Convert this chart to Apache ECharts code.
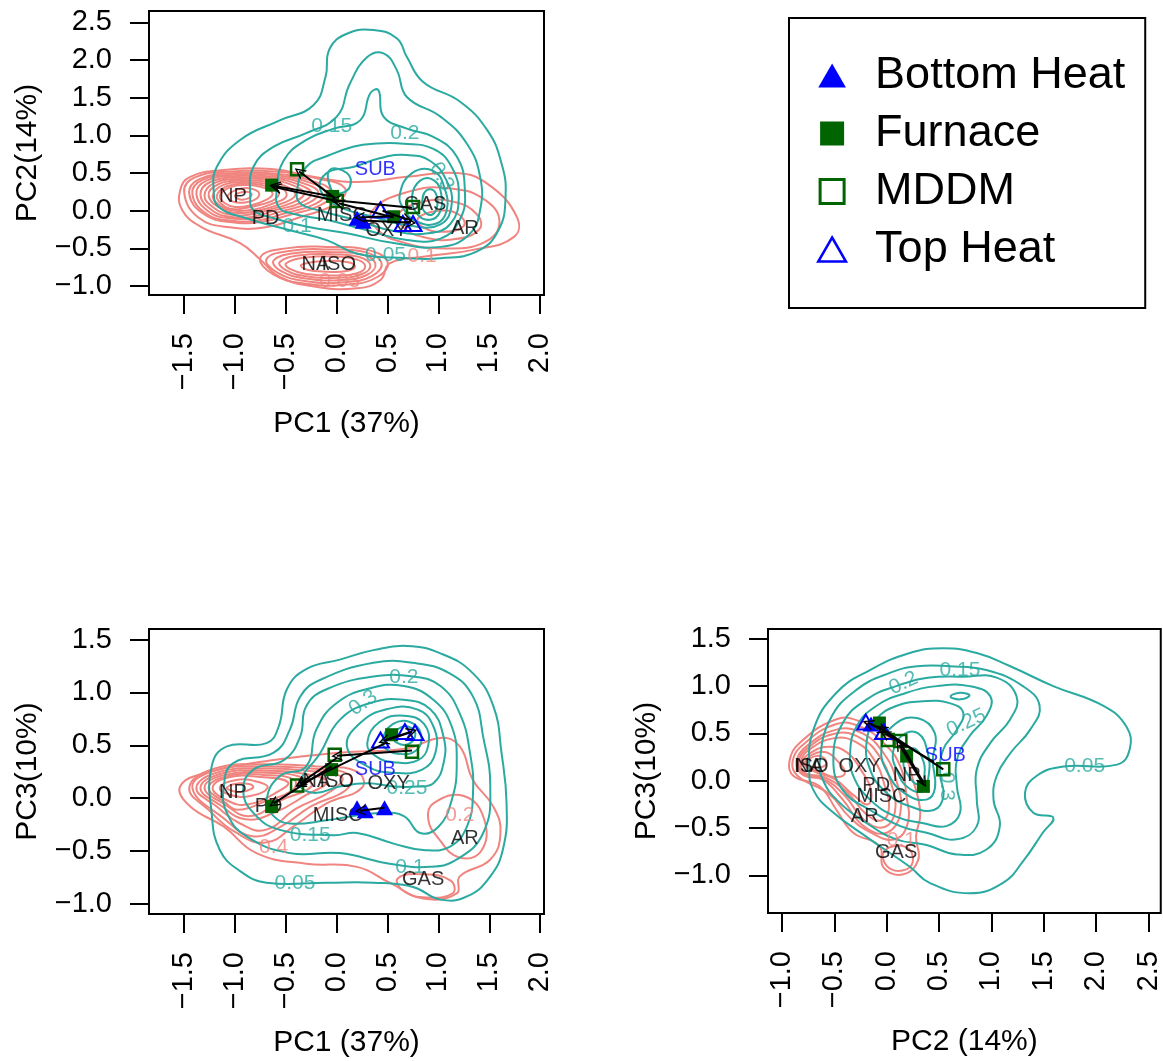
<!DOCTYPE html>
<html><head><meta charset="utf-8">
<script src="https://cdn.jsdelivr.net/npm/echarts@6/dist/echarts.min.js"></script>
<style>html,body{margin:0;padding:0;background:#fff}#c{width:1163px;height:1061px}</style>
</head><body><div id="c"></div>
<script>
// ---------- tick labels ----------
const p1XTicks = [-1.5,-1,-0.5,0,0.5,1,1.5,2];
const p1YTicks = [-1,-0.5,0,0.5,1,1.5,2,2.5];
const p2XTicks = [-1.5,-1,-0.5,0,0.5,1,1.5,2];
const p2YTicks = [-1,-0.5,0,0.5,1,1.5];
const p3XTicks = [-1,-0.5,0,0.5,1,1.5,2,2.5];
const p3YTicks = [-1,-0.5,0,0.5,1,1.5];
const axisNames = ['PC1 (37%)','PC2(14%)','PC1 (37%)','PC3(10%)','PC2 (14%)','PC3(10%)'];
const groups = ['Bottom Heat','Furnace','MDDM','Top Heat'];

// ---------- points (per panel) ----------
const p1BottomHeat = [[0.20,-0.10],[0.26,-0.14]];
const p1Furnace    = [[-0.64,0.34],[-0.04,0.19],[0.56,-0.08]];
const p1MDDM       = [[-0.39,0.55],[0.00,0.13],[0.75,0.05]];
const p1TopHeat    = [[0.43,0.01],[0.65,-0.17],[0.75,-0.17]];

const p2BottomHeat = [[0.20,-0.09],[0.28,-0.12],[0.47,-0.09]];
const p2Furnace    = [[-0.64,-0.08],[-0.05,0.27],[0.54,0.60]];
const p2MDDM       = [[-0.39,0.12],[-0.02,0.41],[0.74,0.44]];
const p2TopHeat    = [[0.43,0.55],[0.67,0.63],[0.77,0.62]];

const p3BottomHeat = [[-0.15,0.60]];
const p3Furnace    = [[-0.07,0.61],[0.19,0.26],[0.35,-0.06]];
const p3MDDM       = [[0.01,0.43],[0.13,0.42],[0.54,0.12]];
const p3TopHeat    = [[-0.20,0.62],[-0.03,0.52]];

// ---------- arrows [x1,y1,x2,y2] (head at second point) ----------
const p1Arrows = [[-0.04,0.19,-0.61,0.33],[0.00,0.13,-0.60,0.31],[0.74,0.04,-0.02,0.14],[-0.02,0.17,-0.37,0.52],[0.56,-0.07,0.22,-0.09],[0.26,-0.13,0.73,-0.16],[0.45,0.00,0.70,-0.12],[0.56,-0.09,0.02,0.10]];
const p2Arrows = [[0.74,0.45,0.00,0.40],[0.50,0.53,-0.36,0.13],[0.00,0.38,-0.36,0.14],[-0.05,0.30,-0.62,-0.05],[0.48,0.55,0.74,0.63],[0.72,0.62,0.46,0.54],[0.47,-0.09,0.23,-0.12]];
const p3Arrows = [[0.54,0.12,-0.05,0.55],[0.45,0.20,-0.02,0.50],[0.13,0.40,0.35,-0.02],[0.35,-0.04,0.12,0.38],[-0.05,0.55,-0.18,0.61],[-0.16,0.60,-0.03,0.53]];

// ---------- variable labels [text, x, y] ----------
const p1Vars = [['NP',-1.02,0.19],['PD',-0.70,-0.10],['MISC',0.05,-0.06],['OXY',0.49,-0.26],['GAS',0.87,0.08],['AR',1.26,-0.23],['NA',-0.21,-0.71],['ISO',0.02,-0.71]];
const p1Sub  = [['SUB',0.38,0.55]];
const p2Vars = [['NP',-1.02,0.05],['PD',-0.67,-0.08],['NA',-0.20,0.16],['ISO',0.00,0.16],['OXY',0.51,0.14],['MISC',0.01,-0.16],['AR',1.26,-0.38],['GAS',0.85,-0.77]];
const p2Sub  = [['SUB',0.38,0.27]];
const p3Vars = [['ISO',-0.72,0.15],['NA',-0.74,0.15],['OXY',-0.26,0.15],['NP',0.19,0.05],['PD',-0.10,-0.05],['MISC',-0.05,-0.17],['AR',-0.21,-0.38],['GAS',0.09,-0.76]];
const p3Sub  = [['SUB',0.56,0.27]];

// ---------- contour level labels [text, x, y, angle] ----------
const p1TealLabels = [['0.15',-0.05,1.12,0],['0.2',0.67,1.03,0],['0.3',1.03,0.45,-60],['0.1',-0.39,-0.21,0],['0.05',0.48,-0.59,0]];
const p1SalmonLabels = [['0.1',0.84,-0.61,0],['0.03',0.03,-0.94,0]];
const p2TealLabels = [['0.2',0.66,1.14,0],['0.3',0.26,0.90,35],['0.25',0.69,0.09,0],['0.15',-0.26,-0.35,0],['0.1',0.72,-0.65,0],['0.05',-0.41,-0.80,0]];
const p2SalmonLabels = [['0.2',1.21,-0.16,0],['0.4',-0.62,-0.46,0]];
const p3TealLabels = [['0.15',0.70,1.17,0],['0.2',0.16,1.03,25],['0.25',0.76,0.61,25],['0.05',1.89,0.15,0],['0.3',0.57,-0.06,-90]];
const p3SalmonLabels = [['0.1',0.14,-0.63,0]];

// ---------- contour lines (closed loops, data coordinates) ----------
const p1Teal = [
 [[-1.21,0.27],[-1.18,0.58],[-0.95,0.94],[-0.56,1.20],[-0.23,1.40],[-0.11,1.78],[-0.07,2.15],[0.10,2.35],[0.36,2.40],[0.59,2.29],[0.69,2.04],[0.85,1.71],[1.21,1.45],[1.48,1.07],[1.62,0.63],[1.66,0.19],[1.59,-0.26],[1.38,-0.54],[1.02,-0.63],[0.69,-0.63],[0.20,-0.57],[-0.10,-0.39],[-0.46,-0.26],[-0.89,-0.10],[-1.16,0.05]],
 [[-0.85,0.19],[-0.82,0.58],[-0.62,0.85],[-0.30,1.03],[0.00,1.25],[0.13,1.69],[0.30,2.04],[0.46,2.09],[0.59,1.87],[0.69,1.51],[1.02,1.25],[1.28,0.89],[1.41,0.45],[1.41,0.01],[1.30,-0.32],[1.02,-0.48],[0.56,-0.43],[0.10,-0.30],[-0.30,-0.21],[-0.62,-0.10],[-0.82,0.01]],
 [[-0.59,0.27],[-0.52,0.67],[-0.30,0.94],[-0.03,1.09],[0.23,1.20],[0.33,1.56],[0.41,1.60],[0.46,1.25],[0.69,1.09],[0.95,0.98],[1.18,0.72],[1.26,0.27],[1.21,-0.12],[1.02,-0.37],[0.69,-0.39],[0.30,-0.26],[-0.10,-0.12],[-0.43,-0.04],[-0.57,0.05]],
 [[-0.39,0.27],[-0.30,0.58],[-0.07,0.74],[0.16,0.85],[0.36,0.89],[0.66,0.89],[0.95,0.82],[1.13,0.58],[1.20,0.19],[1.12,-0.17],[0.90,-0.30],[0.56,-0.27],[0.20,-0.13],[-0.16,0.00],[-0.36,0.10]],
 [[-0.16,0.27],[-0.10,0.50],[0.16,0.58],[0.43,0.70],[0.69,0.74],[0.92,0.66],[1.08,0.40],[1.13,0.08],[1.02,-0.18],[0.72,-0.20],[0.36,-0.08],[0.03,0.05]],
 [[0.62,0.22],[0.74,0.50],[0.95,0.53],[1.06,0.30],[1.08,0.00],[0.98,-0.17],[0.78,-0.14],[0.66,0.02]],
 [[0.74,0.18],[0.82,0.40],[0.96,0.40],[1.03,0.20],[1.01,-0.03],[0.92,-0.12],[0.80,-0.06]],
 [[0.84,0.12],[0.88,0.27],[0.96,0.26],[0.99,0.08],[0.94,-0.05],[0.86,-0.01]],
 [[-0.07,0.54],[0.10,0.50],[0.13,0.32],[0.03,0.23],[-0.05,0.27]]
];
const p1Salmon = [
 [[-1.54,0.27],[-1.44,0.45],[-1.11,0.54],[-0.62,0.55],[-0.23,0.45],[0.20,0.38],[0.69,0.45],[1.18,0.50],[1.48,0.36],[1.77,-0.08],[1.74,-0.35],[1.34,-0.52],[0.85,-0.61],[0.52,-0.70],[0.43,-0.92],[0.20,-1.03],[-0.20,-1.01],[-0.56,-0.88],[-0.75,-0.65],[-0.95,-0.43],[-1.34,-0.21],[-1.52,0.01]],
 [[-1.50,0.24],[-1.40,0.44],[-1.05,0.52],[-0.60,0.52],[-0.20,0.43],[0.08,0.30],[0.00,0.10],[-0.35,-0.08],[-0.70,-0.22],[-1.05,-0.22],[-1.35,-0.10]],
 [[-1.45,0.22],[-1.35,0.42],[-1.00,0.50],[-0.60,0.49],[-0.25,0.40],[-0.05,0.25],[-0.15,0.08],[-0.45,-0.05],[-0.75,-0.15],[-1.05,-0.15],[-1.30,-0.05]],
 [[-1.42,0.22],[-1.32,0.41],[-0.99,0.48],[-0.61,0.47],[-0.28,0.38],[-0.11,0.245],[-0.21,0.09],[-0.50,-0.03],[-0.78,-0.13],[-1.05,-0.13],[-1.28,-0.04]],
 [[-1.38,0.22],[-1.28,0.40],[-0.98,0.46],[-0.62,0.45],[-0.32,0.36],[-0.18,0.24],[-0.28,0.10],[-0.55,-0.01],[-0.80,-0.10],[-1.05,-0.10],[-1.25,-0.02]],
 [[-1.34,0.21],[-1.24,0.385],[-0.96,0.44],[-0.63,0.43],[-0.36,0.34],[-0.25,0.23],[-0.36,0.10],[-0.60,0.01],[-0.82,-0.08],[-1.05,-0.08],[-1.22,0.00]],
 [[-1.30,0.20],[-1.20,0.37],[-0.95,0.42],[-0.65,0.41],[-0.40,0.32],[-0.32,0.22],[-0.45,0.10],[-0.65,0.02],[-0.85,-0.05],[-1.05,-0.05],[-1.20,0.03]],
 [[-1.26,0.20],[-1.16,0.355],[-0.94,0.40],[-0.68,0.385],[-0.46,0.30],[-0.41,0.20],[-0.53,0.10],[-0.72,0.02],[-0.92,-0.03],[-1.12,0.02]],
 [[-1.22,0.20],[-1.12,0.34],[-0.93,0.38],[-0.70,0.36],[-0.52,0.28],[-0.50,0.18],[-0.62,0.10],[-0.80,0.02],[-1.00,0.00],[-1.15,0.07]],
 [[-1.18,0.20],[-1.08,0.325],[-0.915,0.36],[-0.715,0.335],[-0.575,0.255],[-0.60,0.16],[-0.735,0.085],[-0.90,0.035],[-1.05,0.025],[-1.13,0.085]],
 [[-1.15,0.20],[-1.05,0.31],[-0.90,0.34],[-0.73,0.31],[-0.63,0.23],[-0.70,0.14],[-0.85,0.07],[-1.00,0.05],[-1.10,0.10]],
 [[-1.07,0.20],[-0.98,0.28],[-0.87,0.30],[-0.77,0.25],[-0.78,0.17],[-0.90,0.11],[-1.02,0.12]],
 [[-1.00,0.20],[-0.92,0.25],[-0.84,0.23],[-0.86,0.17],[-0.95,0.15]],
 [[-0.75,-0.62],[-0.50,-0.50],[-0.10,-0.48],[0.30,-0.52],[0.50,-0.68],[0.40,-0.88],[0.10,-0.98],[-0.30,-0.97],[-0.62,-0.85]],
 [[-0.69,-0.64],[-0.45,-0.53],[-0.07,-0.515],[0.28,-0.55],[0.44,-0.69],[0.35,-0.865],[0.07,-0.95],[-0.30,-0.935],[-0.58,-0.825]],
 [[-0.62,-0.66],[-0.40,-0.56],[-0.05,-0.55],[0.25,-0.58],[0.38,-0.70],[0.30,-0.85],[0.05,-0.92],[-0.30,-0.90],[-0.55,-0.80]],
 [[-0.56,-0.68],[-0.35,-0.59],[-0.02,-0.58],[0.22,-0.615],[0.33,-0.72],[0.25,-0.84],[0.02,-0.89],[-0.30,-0.87],[-0.50,-0.79]],
 [[-0.50,-0.70],[-0.30,-0.62],[0.00,-0.61],[0.20,-0.65],[0.28,-0.74],[0.20,-0.83],[0.00,-0.86],[-0.30,-0.84],[-0.45,-0.78]],
 [[-0.35,-0.72],[-0.15,-0.67],[0.10,-0.68],[0.18,-0.74],[0.10,-0.80],[-0.10,-0.81],[-0.30,-0.78]],
 [[0.35,0.00],[0.70,0.25],[1.10,0.30],[1.45,0.15],[1.60,-0.15],[1.45,-0.42],[1.05,-0.50],[0.65,-0.42],[0.40,-0.25]],
 [[0.60,-0.05],[0.85,0.12],[1.15,0.12],[1.38,-0.05],[1.40,-0.25],[1.15,-0.38],[0.85,-0.35],[0.65,-0.22]],
 [[0.80,-0.10],[1.00,0.00],[1.20,-0.05],[1.25,-0.20],[1.05,-0.28],[0.85,-0.22]]
];
const p2Teal = [
 [[-1.23,-0.14],[-1.23,0.30],[-1.08,0.49],[-0.69,0.52],[-0.57,0.68],[-0.49,1.03],[-0.30,1.22],[0.03,1.31],[0.36,1.40],[0.69,1.44],[1.02,1.37],[1.34,1.18],[1.54,0.87],[1.62,0.43],[1.67,-0.05],[1.64,-0.46],[1.51,-0.74],[1.28,-0.93],[1.02,-0.96],[0.75,-0.84],[0.36,-0.80],[-0.10,-0.80],[-0.69,-0.80],[-0.95,-0.69],[-1.15,-0.49]],
 [[-1.11,0.11],[-1.02,0.33],[-0.62,0.43],[-0.46,0.65],[-0.36,0.96],[-0.16,1.12],[0.36,1.28],[0.75,1.28],[1.11,1.18],[1.34,0.96],[1.44,0.58],[1.51,0.11],[1.44,-0.33],[1.18,-0.58],[0.92,-0.65],[0.52,-0.62],[0.03,-0.52],[-0.46,-0.52],[-0.89,-0.36],[-1.08,-0.14]],
 [[-0.92,0.08],[-0.82,0.27],[-0.52,0.36],[-0.36,0.58],[-0.30,0.87],[-0.10,1.03],[0.36,1.15],[0.75,1.15],[1.02,1.06],[1.21,0.80],[1.31,0.43],[1.34,0.05],[1.28,-0.27],[1.11,-0.46],[0.85,-0.49],[0.56,-0.43],[0.20,-0.33],[-0.03,-0.35],[-0.56,-0.30],[-0.82,-0.14]],
 [[-0.69,-0.02],[-0.56,0.21],[-0.30,0.30],[-0.20,0.65],[0.00,0.90],[0.33,1.04],[0.66,1.06],[0.95,0.93],[1.13,0.68],[1.18,0.33],[1.13,-0.02],[1.00,-0.27],[0.82,-0.33],[0.66,-0.17],[0.43,-0.14],[0.16,-0.17],[-0.10,-0.21],[-0.46,-0.24],[-0.62,-0.17]],
 [[-0.36,0.14],[-0.16,0.43],[0.03,0.74],[0.33,0.90],[0.66,0.93],[0.92,0.84],[1.05,0.58],[1.05,0.33],[0.95,0.14],[0.79,0.11],[0.56,0.11],[0.30,0.14],[0.03,0.11],[-0.23,0.05]],
 [[0.10,0.49],[0.23,0.71],[0.49,0.84],[0.79,0.84],[0.95,0.68],[0.97,0.43],[0.84,0.27],[0.56,0.24],[0.30,0.30]],
 [[0.30,0.52],[0.42,0.72],[0.66,0.78],[0.86,0.70],[0.90,0.50],[0.80,0.36],[0.56,0.34],[0.38,0.40]],
 [[0.45,0.55],[0.55,0.70],[0.72,0.72],[0.83,0.60],[0.78,0.45],[0.60,0.42],[0.48,0.47]],
 [[0.56,0.58],[0.63,0.67],[0.74,0.66],[0.77,0.58],[0.70,0.51],[0.60,0.52]]
];
const p2Salmon = [
 [[-1.54,0.11],[-1.28,0.24],[-0.62,0.36],[0.03,0.43],[0.69,0.47],[1.02,0.57],[1.21,0.49],[1.34,0.17],[1.54,-0.08],[1.61,-0.33],[1.51,-0.58],[1.21,-0.74],[1.18,-0.90],[0.85,-0.95],[0.52,-0.80],[0.20,-0.65],[-0.30,-0.62],[-0.79,-0.52],[-1.11,-0.27],[-1.44,-0.08]],
 [[-1.45,0.10],[-1.20,0.28],[-0.70,0.32],[-0.20,0.30],[0.20,0.25],[0.25,0.10],[-0.10,-0.05],[-0.40,-0.25],[-0.70,-0.42],[-1.00,-0.32],[-1.25,-0.12]],
 [[-1.42,0.10],[-1.18,0.265],[-0.70,0.30],[-0.25,0.28],[0.12,0.225],[0.10,0.085],[-0.25,-0.075],[-0.55,-0.27],[-0.83,-0.36],[-1.10,-0.20]],
 [[-1.38,0.10],[-1.15,0.25],[-0.70,0.28],[-0.30,0.26],[0.05,0.20],[-0.05,0.07],[-0.40,-0.10],[-0.70,-0.30],[-0.95,-0.24],[-1.18,-0.08]],
 [[-1.34,0.10],[-1.12,0.235],[-0.70,0.26],[-0.32,0.23],[-0.10,0.155],[-0.30,0.03],[-0.62,-0.14],[-0.90,-0.20],[-1.14,-0.07]],
 [[-1.30,0.10],[-1.10,0.22],[-0.70,0.24],[-0.35,0.20],[-0.25,0.11],[-0.55,-0.02],[-0.85,-0.17],[-1.10,-0.06]],
 [[-1.26,0.10],[-1.07,0.21],[-0.72,0.22],[-0.42,0.175],[-0.43,0.08],[-0.70,-0.03],[-0.97,-0.11],[-1.10,-0.04]],
 [[-1.22,0.10],[-1.05,0.20],[-0.75,0.20],[-0.48,0.15],[-0.60,0.05],[-0.88,-0.06],[-1.08,-0.02]],
 [[-1.15,0.10],[-1.00,0.17],[-0.80,0.16],[-0.68,0.10],[-0.85,0.02],[-1.04,0.03]],
 [[-1.08,0.10],[-0.95,0.14],[-0.82,0.11],[-0.92,0.06],[-1.03,0.07]],
 [[0.95,-0.05],[1.25,0.02],[1.45,-0.20],[1.42,-0.50],[1.20,-0.56],[1.00,-0.38],[0.90,-0.20]],
 [[0.60,-0.76],[0.85,-0.72],[1.12,-0.78],[1.14,-0.90],[0.88,-0.94],[0.66,-0.88]]
];
const p3Teal = [
 [[-0.74,0.12],[-0.70,0.54],[-0.48,0.93],[-0.16,1.17],[0.22,1.35],[0.54,1.40],[0.86,1.35],[1.18,1.21],[1.59,1.00],[2.07,0.79],[2.29,0.57],[2.32,0.33],[2.20,0.17],[1.69,0.15],[1.43,0.05],[1.32,-0.13],[1.40,-0.34],[1.59,-0.39],[1.49,-0.55],[1.31,-0.84],[1.11,-1.08],[0.79,-1.19],[0.41,-1.08],[0.22,-0.91],[-0.16,-0.62],[-0.54,-0.31],[-0.70,-0.10]],
 [[-0.64,0.19],[-0.54,0.65],[-0.29,0.96],[0.03,1.14],[0.29,1.21],[0.60,1.21],[0.95,1.17],[1.30,1.00],[1.46,0.79],[1.37,0.54],[1.18,0.29],[1.05,0.05],[1.02,-0.20],[1.08,-0.48],[0.95,-0.73],[0.67,-0.78],[0.38,-0.68],[0.09,-0.62],[-0.19,-0.45],[-0.48,-0.20],[-0.61,0.01]],
 [[-0.51,0.22],[-0.42,0.61],[-0.19,0.86],[0.09,1.00],[0.41,1.09],[0.73,1.10],[1.05,1.09],[1.24,0.89],[1.18,0.65],[0.99,0.40],[0.86,0.12],[0.86,-0.20],[0.86,-0.48],[0.67,-0.62],[0.38,-0.55],[0.13,-0.48],[-0.16,-0.31],[-0.42,-0.10]],
 [[-0.35,0.29],[-0.29,0.57],[-0.10,0.79],[0.19,0.93],[0.48,1.00],[0.79,1.00],[0.99,0.89],[0.95,0.68],[0.79,0.47],[0.67,0.22],[0.67,-0.06],[0.70,-0.34],[0.57,-0.48],[0.35,-0.45],[0.09,-0.38],[-0.16,-0.20],[-0.32,0.05]],
 [[-0.19,0.43],[-0.10,0.65],[0.09,0.79],[0.35,0.84],[0.60,0.82],[0.73,0.72],[0.67,0.54],[0.54,0.33],[0.51,0.08],[0.54,-0.17],[0.45,-0.31],[0.22,-0.27],[0.00,-0.13],[-0.16,0.12]],
 [[-0.05,0.35],[0.08,0.60],[0.30,0.66],[0.46,0.50],[0.44,0.22],[0.46,-0.08],[0.38,-0.20],[0.18,-0.14],[0.02,0.06]],
 [[0.06,0.30],[0.15,0.48],[0.30,0.50],[0.39,0.30],[0.40,0.05],[0.34,-0.11],[0.20,-0.07],[0.10,0.10]],
 [[0.16,0.20],[0.24,0.34],[0.33,0.26],[0.36,0.06],[0.30,-0.04],[0.21,0.05]],
 [[0.61,0.89],[0.70,0.93],[0.79,0.90],[0.70,0.86]]
];
const p3Salmon = [
 [[-0.93,0.20],[-0.83,0.40],[-0.48,0.65],[-0.26,0.63],[-0.03,0.50],[0.16,0.29],[0.25,0.01],[0.32,-0.34],[0.28,-0.59],[0.30,-0.84],[0.16,-0.99],[-0.03,-0.92],[-0.07,-0.69],[-0.32,-0.55],[-0.48,-0.31],[-0.64,-0.06],[-0.89,0.05]],
 [[-0.90,0.20],[-0.80,0.38],[-0.48,0.60],[-0.25,0.57],[-0.03,0.40],[0.13,0.15],[0.19,-0.17],[0.20,-0.45],[0.08,-0.62],[-0.15,-0.55],[-0.36,-0.38],[-0.55,-0.14],[-0.85,0.05]],
 [[-0.86,0.20],[-0.77,0.36],[-0.48,0.54],[-0.23,0.50],[-0.03,0.29],[0.09,0.01],[0.13,-0.34],[0.00,-0.55],[-0.22,-0.48],[-0.42,-0.20],[-0.61,0.01],[-0.80,0.06]],
 [[-0.84,0.20],[-0.76,0.34],[-0.49,0.50],[-0.25,0.45],[-0.07,0.26],[0.04,-0.02],[0.08,-0.32],[-0.02,-0.49],[-0.21,-0.42],[-0.40,-0.16],[-0.60,0.02],[-0.79,0.07]],
 [[-0.82,0.20],[-0.75,0.32],[-0.50,0.45],[-0.28,0.40],[-0.12,0.22],[-0.02,-0.05],[0.02,-0.30],[-0.05,-0.42],[-0.20,-0.35],[-0.38,-0.12],[-0.60,0.04],[-0.78,0.08]],
 [[-0.80,0.20],[-0.72,0.30],[-0.55,0.36],[-0.38,0.30],[-0.25,0.12],[-0.15,-0.10],[-0.18,-0.25],[-0.32,-0.15],[-0.50,0.02],[-0.70,0.10]],
 [[-0.78,0.20],[-0.70,0.28],[-0.58,0.30],[-0.48,0.22],[-0.40,0.08],[-0.50,0.04],[-0.65,0.10],[-0.74,0.13]],
 [[-0.76,0.20],[-0.68,0.26],[-0.60,0.24],[-0.58,0.17],[-0.66,0.14],[-0.73,0.15]],
 [[-0.02,-0.74],[0.18,-0.70],[0.25,-0.85],[0.15,-0.95],[0.00,-0.90]]
];

// ---------- styling ----------
const FONT = '"Liberation Sans", Arial, Helvetica, sans-serif';
const TEAL = '#2AAAA0';
const SALMON = '#F08580';
const BLUE = '#0000FF';
const GREEN = '#006400';
const CHEVRON = 'path://M0,10 L5,0 L10,10 L8.6,10 L5,2.8 L1.4,10 Z';
const fmt = v => (v < 0 ? '\u2212' : '') + Math.abs(v).toFixed(1);

const gridBox = {show:true, borderColor:'#000', borderWidth:2, backgroundColor:'rgba(0,0,0,0)'};
const grids = [
  Object.assign({left:149, top:11, width:395, height:284}, gridBox),
  Object.assign({left:149, top:629, width:395, height:285}, gridBox),
  Object.assign({left:768, top:629, width:393, height:284}, gridBox)
];
const ranges = [
  {x:[-1.846,2.038], y:[-1.119,2.652], xt:p1XTicks, yt:p1YTicks},
  {x:[-1.846,2.038], y:[-1.096,1.600], xt:p2XTicks, yt:p2YTicks},
  {x:[-1.134,2.617], y:[-1.399,1.604], xt:p3XTicks, yt:p3YTicks}
];

function mkAxis(dim, p) {
  const r = ranges[p];
  const isX = dim === 'x';
  const ticks = isX ? r.xt : r.yt;
  return {
    gridIndex:p, type:'value', min:r[dim][0], max:r[dim][1],
    name: axisNames[p*2 + (isX ? 0 : 1)], nameLocation:'middle', nameGap: isX ? 114 : 106,
    nameTextStyle:{fontSize:30, color:'#000', fontFamily:FONT},
    axisLine:{show:false, onZero:false}, splitLine:{show:false},
    axisTick:{show:true, inside:false, length:19, lineStyle:{color:'#000', width:2}, customValues:ticks},
    axisLabel:{show:true, customValues:ticks, rotate: isX ? 90 : 0, margin: isX ? 38 : 37,
      fontSize:29, color:'#000', fontFamily:FONT, formatter:fmt}
  };
}

function contourSeries(loops, color, p) {
  return {
    type:'custom', xAxisIndex:p, yAxisIndex:p, silent:true, z:2, animation:false,
    data: loops.map(l => l[0]),
    renderItem: (params, api) => ({
      type:'polygon',
      shape:{points: loops[params.dataIndex].map(pt => api.coord(pt)), smooth:0.45},
      style:{fill:'none', stroke:color, lineWidth:2}
    })
  };
}

function textSeries(items, color, p, size, z) {
  return {
    type:'scatter', xAxisIndex:p, yAxisIndex:p, symbolSize:1, silent:true, z:z, animation:false,
    itemStyle:{color:'rgba(0,0,0,0)'},
    label:{show:true, position:'inside', formatter:'{b}', color:color, fontSize:size, fontFamily:FONT},
    data: items.map(it => ({name:it[0], value:[it[1], it[2]], label:{rotate: it[3] || 0}}))
  };
}

function arrowSeries(arrows, p) {
  return {
    type:'lines', coordinateSystem:'cartesian2d', xAxisIndex:p, yAxisIndex:p, silent:true, z:8, animation:false,
    symbol:['none', CHEVRON], symbolSize:11,
    lineStyle:{color:'#000', width:2, opacity:1, curveness:0},
    data: arrows.map(a => ({coords:[[a[0],a[1]],[a[2],a[3]]]}))
  };
}

const markerStyles = {
  'Bottom Heat': {symbol:'triangle', symbolSize:[17,15], itemStyle:{color:BLUE, opacity:1}},
  'Furnace':     {symbol:'rect', symbolSize:13, itemStyle:{color:GREEN, opacity:1}},
  'MDDM':        {symbol:'rect', symbolSize:12, itemStyle:{color:'rgba(255,255,255,0)', borderColor:GREEN, borderWidth:2.5, opacity:1}},
  'Top Heat':    {symbol:'triangle', symbolSize:[17,15], itemStyle:{color:'rgba(255,255,255,0)', borderColor:BLUE, borderWidth:2, opacity:1}}
};
function pointSeries(name, pts, p) {
  const st = markerStyles[name];
  return {type:'scatter', name:name, xAxisIndex:p, yAxisIndex:p, z:7, silent:true, animation:false,
    symbol:st.symbol, symbolSize:st.symbolSize, itemStyle:st.itemStyle, data:pts};
}

const panelData = [
  {teal:p1Teal, salmon:p1Salmon, tl:p1TealLabels, sl:p1SalmonLabels, vars:p1Vars, sub:p1Sub, arrows:p1Arrows, pts:[p1BottomHeat,p1Furnace,p1MDDM,p1TopHeat]},
  {teal:p2Teal, salmon:p2Salmon, tl:p2TealLabels, sl:p2SalmonLabels, vars:p2Vars, sub:p2Sub, arrows:p2Arrows, pts:[p2BottomHeat,p2Furnace,p2MDDM,p2TopHeat]},
  {teal:p3Teal, salmon:p3Salmon, tl:p3TealLabels, sl:p3SalmonLabels, vars:p3Vars, sub:p3Sub, arrows:p3Arrows, pts:[p3BottomHeat,p3Furnace,p3MDDM,p3TopHeat]}
];

const series = [];
panelData.forEach((d, p) => {
  series.push(contourSeries(d.salmon, SALMON, p));
  series.push(textSeries(d.sl, SALMON, p, 21, 3));
  series.push(contourSeries(d.teal, TEAL, p));
  series.push(textSeries(d.tl, TEAL, p, 21, 3));
  series.push(textSeries(d.vars, '#000', p, 20, 5));
  series.push(textSeries(d.sub, BLUE, p, 20, 5));
  groups.forEach((g, i) => series.push(pointSeries(g, d.pts[i], p)));
  series.push(arrowSeries(d.arrows, p));
});

const chart = echarts.init(document.getElementById('c'), null, {renderer:'canvas'});
chart.setOption({
  backgroundColor:'#fff',
  animation:false,
  grid: grids,
  xAxis: [0,1,2].map(p => mkAxis('x', p)),
  yAxis: [0,1,2].map(p => mkAxis('y', p)),
  legend: {
    show:true, orient:'vertical', left:789, top:18, padding:[35,20,36,28],
    itemGap:13, itemWidth:28, itemHeight:24, selectedMode:false,
    borderColor:'#000', borderWidth:2, borderRadius:0, backgroundColor:'#fff',
    textStyle:{fontSize:45, color:'#000', fontFamily:FONT, lineHeight:40, padding:[0,0,0,24]},
    data:[
      {name:'Bottom Heat', icon:'path://M5,0L10,8.66L0,8.66Z', itemStyle:{color:BLUE, borderWidth:0, opacity:1}},
      {name:'Furnace', icon:'path://M0,0H10V10H0Z', itemStyle:{color:GREEN, borderWidth:0, opacity:1}},
      {name:'MDDM', icon:'path://M0,0H10V10H0Z', itemStyle:{color:'#fff', borderColor:GREEN, borderWidth:3, opacity:1}},
      {name:'Top Heat', icon:'path://M5,0L10,8.66L0,8.66Z', itemStyle:{color:'#fff', borderColor:BLUE, borderWidth:2.5, opacity:1}}
    ]
  },
  series: series
});
</script></body></html>
